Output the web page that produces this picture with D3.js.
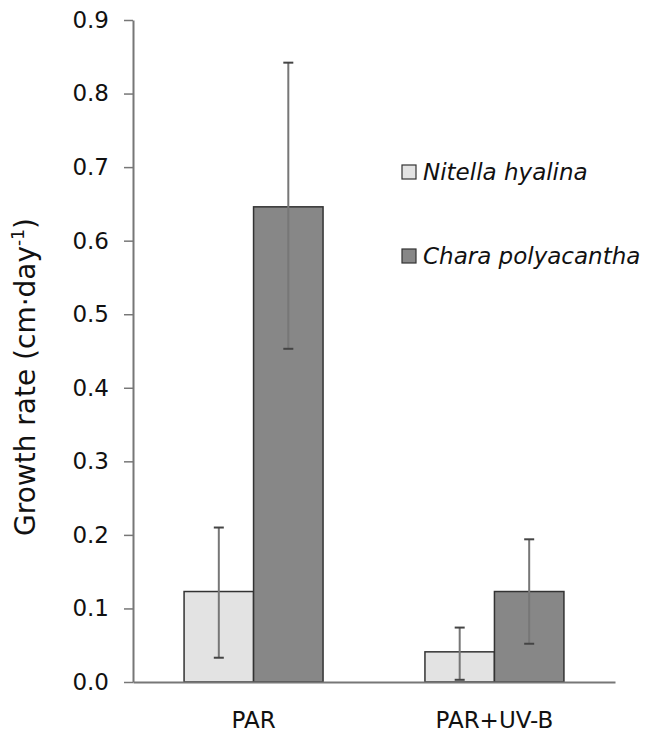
<!DOCTYPE html>
<html>
<head>
<meta charset="utf-8">
<script src="https://cdn.jsdelivr.net/npm/d3@7"></script>
<style>
  body { margin: 0; background: #fff; }
  text { font-family: "DejaVu Sans", "Liberation Sans", sans-serif; fill: #111; }
</style>
</head>
<body>
<svg id="chart"></svg>
<script>
// Treatments and species
const treatments = ["PAR", "PAR+UV-B"];
const species = ["Nitella hyalina", "Chara polyacantha"];
// Mean growth rates, per treatment
const nitellaMean = [0.123, 0.041];
const charaMean = [0.646, 0.123];
// Error bar bounds
const nitellaLow = [0.033, 0.003];
const nitellaHigh = [0.210, 0.074];
const charaLow = [0.453, 0.052];
const charaHigh = [0.842, 0.194];
const yTicks = [0, 0.1, 0.2, 0.3, 0.4, 0.5, 0.6, 0.7, 0.8, 0.9];
const fills = ["#e3e3e3", "#878787"];

const width = 658, height = 735;
const margin = { top: 20, right: 43, bottom: 53, left: 133 };
const font = "DejaVu Sans, Liberation Sans, sans-serif";

const svg = d3.select("#chart").attr("width", width).attr("height", height);

const y = d3.scaleLinear().domain([0, 0.9]).range([height - margin.bottom, margin.top]);
const x = d3.scaleBand().domain(treatments)
  .range([margin.left, width - margin.right]).paddingInner(0.423).paddingOuter(0.212);
const xs = d3.scaleBand().domain(species).range([0, x.bandwidth()]);

const rows = [];
treatments.forEach((t, i) => {
  rows.push({ t, s: species[0], v: nitellaMean[i], lo: nitellaLow[i], hi: nitellaHigh[i], c: fills[0] });
  rows.push({ t, s: species[1], v: charaMean[i], lo: charaLow[i], hi: charaHigh[i], c: fills[1] });
});

// Bars
svg.append("g").selectAll("rect").data(rows).join("rect")
  .attr("x", d => x(d.t) + xs(d.s))
  .attr("y", d => y(d.v))
  .attr("width", xs.bandwidth())
  .attr("height", d => y(0) - y(d.v))
  .attr("fill", d => d.c)
  .attr("stroke", "#333")
  .attr("stroke-width", 1.5);

// Error bars
const eb = svg.append("g").selectAll("g").data(rows).join("g")
  .attr("transform", d => `translate(${x(d.t) + xs(d.s) + xs.bandwidth() / 2},0)`);
eb.append("line")
  .attr("y1", d => y(d.lo)).attr("y2", d => y(d.hi))
  .attr("stroke", "#777").attr("stroke-width", 2);
["hi", "lo"].forEach(k => {
  eb.append("line")
    .attr("x1", -5).attr("x2", 5)
    .attr("y1", d => y(d[k])).attr("y2", d => y(d[k]))
    .attr("stroke", "#444").attr("stroke-width", 2);
});

// Y axis
const yAxis = svg.append("g")
  .attr("transform", `translate(${margin.left},0)`)
  .call(d3.axisLeft(y).tickValues(yTicks).tickFormat(d3.format(".1f")).tickSize(9).tickSizeOuter(0).tickPadding(15));
yAxis.select(".domain").attr("stroke", "#777").attr("stroke-width", 2);
yAxis.selectAll(".tick line").attr("stroke", "#777").attr("stroke-width", 1.5);
yAxis.selectAll(".tick text").attr("font-size", 23).attr("fill", "#111").attr("font-family", font);

// X axis baseline
const xAxis = svg.append("g")
  .attr("transform", `translate(0,${y(0)})`)
  .call(d3.axisBottom(x).tickSize(0).tickPadding(30));
xAxis.select(".domain").attr("stroke", "#777").attr("stroke-width", 2);
xAxis.selectAll(".tick text").attr("font-size", 23).attr("fill", "#111").attr("font-family", font);

// Y title
const title = svg.append("text")
  .attr("transform", "translate(35,377) rotate(-90)")
  .attr("text-anchor", "middle")
  .attr("font-size", 28);
title.append("tspan").text("Growth rate (cm·day");
title.append("tspan").attr("font-size", 17).attr("dy", -11).text("-1");
title.append("tspan").attr("dy", 11).text(")");

// Legend
const legend = svg.append("g").selectAll("g").data(species).join("g")
  .attr("transform", (d, i) => `translate(402,${165 + i * 84})`);
legend.append("rect")
  .attr("width", 14).attr("height", 14)
  .attr("fill", (d, i) => fills[i])
  .attr("stroke", "#333").attr("stroke-width", 1.2);
legend.append("text")
  .attr("x", 21).attr("y", 15)
  .attr("font-size", 23).attr("font-style", "italic")
  .text(d => d);
</script>
</body>
</html>
